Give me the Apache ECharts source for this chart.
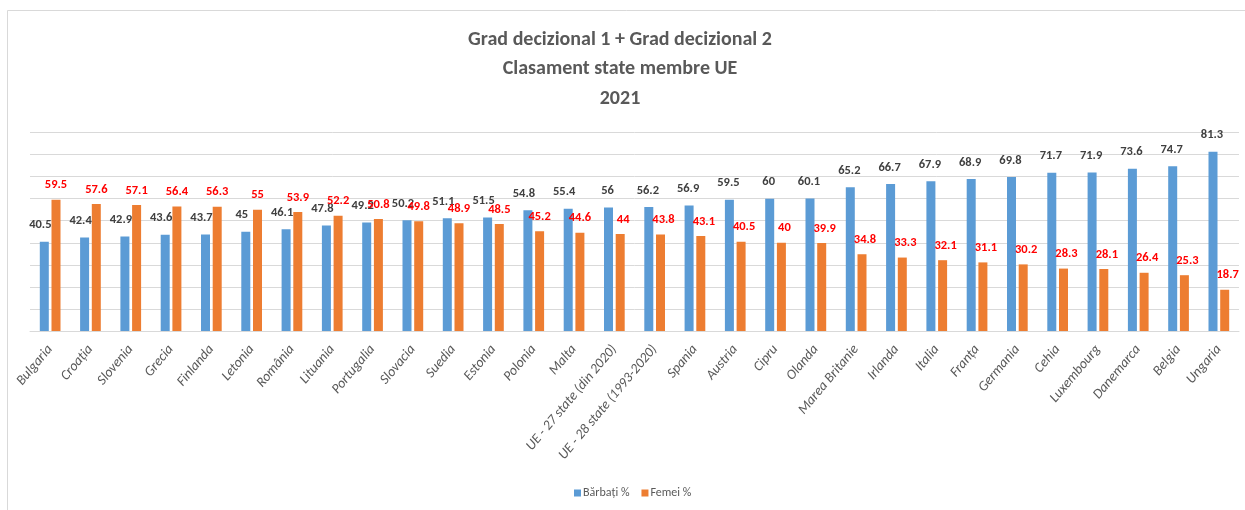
<!DOCTYPE html>
<html>
<head>
<meta charset="utf-8">
<script src="https://cdn.jsdelivr.net/npm/echarts@6/dist/echarts.min.js"></script>
<style>html,body{margin:0;padding:0;background:#fff}#c{width:1245px;height:510px}</style>
</head>
<body>
<div id="c"></div>
<script>
const categories = ['Bulgaria','Croația','Slovenia','Grecia','Finlanda','Letonia','România','Lituania','Portugalia','Slovacia','Suedia','Estonia','Polonia','Malta','UE - 27 state (din 2020)','UE - 28 state (1993-2020)','Spania','Austria','Cipru','Olanda','Marea Britanie','Irlanda','Italia','Franța','Germania','Cehia','Luxembourg','Danemarca','Belgia','Ungaria'];
const barbati = [40.5,42.4,42.9,43.6,43.7,45,46.1,47.8,49.2,50.2,51.1,51.5,54.8,55.4,56,56.2,56.9,59.5,60,60.1,65.2,66.7,67.9,68.9,69.8,71.7,71.9,73.6,74.7,81.3];
const femei = [59.5,57.6,57.1,56.4,56.3,55,53.9,52.2,50.8,49.8,48.9,48.5,45.2,44.6,44,43.8,43.1,40.5,40,39.9,34.8,33.3,32.1,31.1,30.2,28.3,28.1,26.4,25.3,18.7];
const seriesNames = ['Bărbați %','Femei %'];
const titleText = 'Grad decizional 1 + Grad decizional 2\nClasament state membre UE\n2021';

const FONT = 'Carlito, "Roboto Condensed", sans-serif';
// label nudges (Excel-style hand placement): blue labels lean left on the left half, red lean right on the right half
const blueData = barbati.map((v, i) => ({value: v, label: {offset: [i < 14 ? -4 : -1, 0]}}));
const redData = femei.map((v, i) => ({value: v, label: {offset: [i < 14 ? 0 : 3, 0]}}));

const chart = echarts.init(document.getElementById('c'), null, {renderer:'canvas'});
chart.setOption({
  animation: false,
  backgroundColor: '#fff',
  graphic: [{type:'rect', shape:{x:7.5,y:10.5,width:1260,height:520}, style:{fill:'none',stroke:'#d9d9d9',lineWidth:1}, silent:true}],
  title: {
    text: titleText, left: 615, top: 20, textAlign: 'center',
    textStyle: {fontFamily: FONT, fontSize: 20, fontWeight: 'bold', color: '#595959', lineHeight: 29.5}
  },
  legend: {
    data: seriesNames, bottom: 6, left: 569, itemWidth: 7, itemHeight: 7, itemGap: 12,
    icon: 'rect',
    textStyle: {fontFamily: FONT, fontSize: 12, color: '#595959', padding:[0,0,0,-3]}
  },
  grid: {left: 30, right: 6, top: 132.5, bottom: 179, containLabel: false},
  xAxis: {
    type: 'category', data: categories,
    axisLine: {lineStyle: {color: '#d9d9d9', width: 1}},
    axisTick: {show: false},
    axisLabel: {rotate: 50, interval: 0, margin: 16, fontFamily: FONT, fontSize: 14, fontStyle: 'italic', color: '#595959'}
  },
  yAxis: {
    type: 'value', min: 0, max: 90, interval: 10,
    axisLabel: {show: false}, axisLine: {show: false}, axisTick: {show: false},
    splitLine: {lineStyle: {color: '#d9d9d9', width: 1}}
  },
  series: [
    {name: seriesNames[0], type: 'bar', data: blueData, barWidth: 9, barGap: '30%',
     itemStyle: {color: '#5b9bd5'},
     label: {show: true, position: 'top', distance: 10, fontFamily: FONT, fontSize: 12.5, fontWeight: 'bold', color: '#404040'}},
    {name: seriesNames[1], type: 'bar', data: redData, barWidth: 9,
     itemStyle: {color: '#ed7d31'},
     label: {show: true, position: 'top', distance: 8, fontFamily: FONT, fontSize: 12.5, fontWeight: 'bold', color: '#ff0000'}}
  ]
});
</script>
</body>
</html>
